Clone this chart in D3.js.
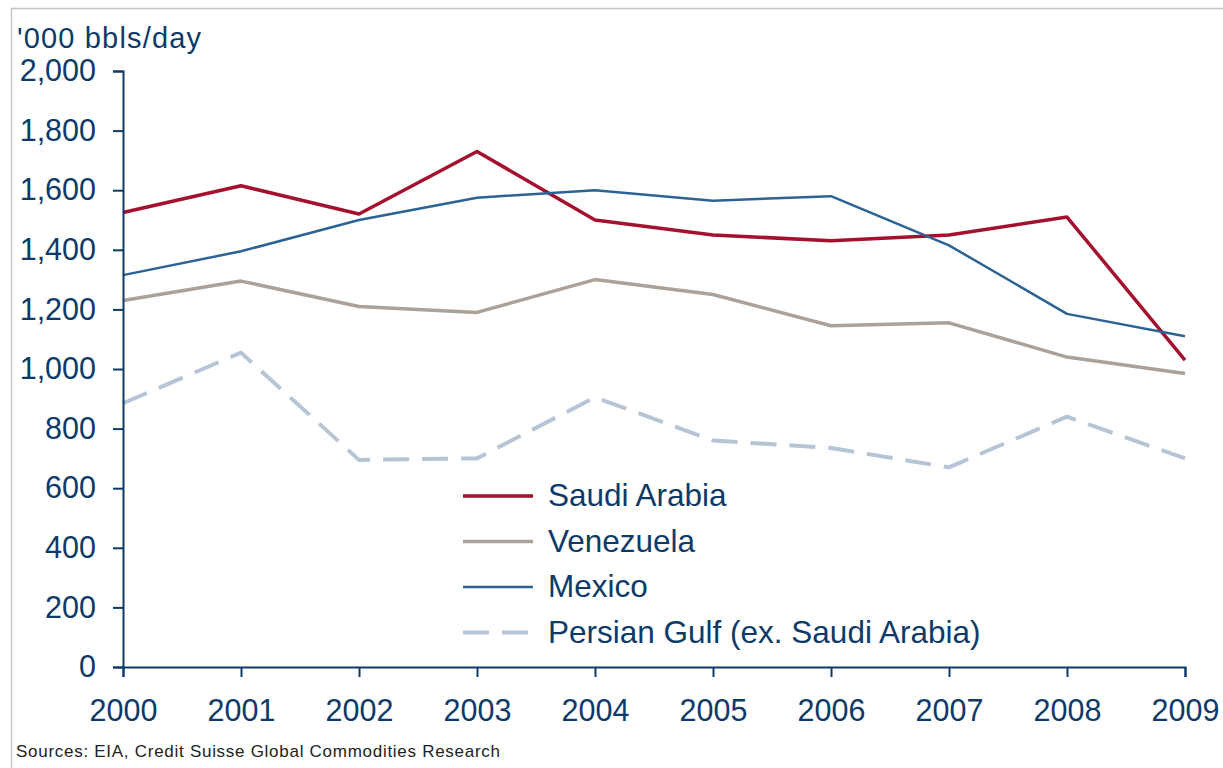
<!DOCTYPE html>
<html>
<head>
<meta charset="utf-8">
<script src="https://cdn.jsdelivr.net/npm/d3@7"></script>
<style>
    body { margin: 0; background: #fff; }
    svg { display: block; font-family: "Liberation Sans", Arial, sans-serif; }
</style>
</head>
<body>
<svg id="chart" width="1223" height="768"></svg>
<script>
// data, '000 bbls/day
const years = [2000, 2001, 2002, 2003, 2004, 2005, 2006, 2007, 2008, 2009];
const saudi_arabia = [1525, 1615, 1520, 1730, 1500, 1450, 1430, 1450, 1510, 1030];
const venezuela = [1230, 1295, 1210, 1190, 1300, 1250, 1145, 1155, 1040, 985];
const mexico = [1315, 1395, 1500, 1575, 1600, 1565, 1580, 1415, 1185, 1110];
const persian_gulf = [885, 1055, 695, 700, 905, 760, 735, 670, 840, 700];
const y_ticks = [0, 200, 400, 600, 800, 1000, 1200, 1400, 1600, 1800, 2000];

const text_colour = "#0d3a68";

const series = [
    {name: "Saudi Arabia", values: saudi_arabia, colour: "#a3112e", width: 3.5, dash: null},
    {name: "Venezuela", values: venezuela, colour: "#aaa199", width: 3.5, dash: null},
    {name: "Mexico", values: mexico, colour: "#2b6395", width: 2.5, dash: null},
    {name: "Persian Gulf (ex. Saudi Arabia)", values: persian_gulf, colour: "#b6c5d5", width: 4, dash: "26,13"},
];

let svg = d3.select("#chart");

// frame lines top and left
svg.append("path")
    .attr("d", "M11.5,768V8.5H1223")
    .attr("fill", "none")
    .attr("stroke", "#c4c4c4")
    .attr("stroke-width", 1.5);

let x = d3.scaleLinear()
    .domain([years[0], years[years.length - 1]])
    .range([123, 1185]);

let y = d3.scaleLinear()
    .domain([0, 2000])
    .range([667, 71]);

// series lines
let line = d3.line()
    .x((_, i) => x(years[i]))
    .y(d => y(d));

svg.append("g")
    .selectAll("path")
    .data(series)
    .join("path")
    .attr("fill", "none")
    .attr("stroke", d => d.colour)
    .attr("stroke-width", d => d.width)
    .attr("stroke-dasharray", d => d.dash)
    .attr("stroke-linejoin", "round")
    .attr("d", d => line(d.values));

// axes
let y_axis = svg.append("g")
    .attr("transform", "translate(123,0)")
    .call(d3.axisLeft(y)
        .tickValues(y_ticks)
        .tickFormat(d3.format(","))
        .tickSize(10)
        .tickPadding(17));

let x_axis = svg.append("g")
    .attr("transform", "translate(0,667)")
    .call(d3.axisBottom(x)
        .tickValues(years)
        .tickFormat(d3.format("d"))
        .tickSize(10)
        .tickPadding(22));

for (let axis of [y_axis, x_axis]) {
    axis.selectAll("path, line")
        .attr("stroke", text_colour)
        .attr("stroke-width", 2);
    axis.selectAll("text")
        .attr("fill", text_colour)
        .attr("font-size", 30.5)
        .attr("font-family", "Liberation Sans, Arial, sans-serif");
}

// unit label
svg.append("text")
    .attr("x", 17)
    .attr("y", 48)
    .attr("fill", text_colour)
    .attr("font-size", 29)
    .attr("textLength", 184)
    .text("'000 bbls/day");

// legend
let legend = svg.append("g")
    .attr("transform", "translate(463,496)");

let rows = legend.selectAll("g")
    .data(series)
    .join("g")
    .attr("transform", (_, i) => `translate(0,${i * 45.5})`);

rows.append("line")
    .attr("x1", 0)
    .attr("x2", 70)
    .attr("stroke", d => d.colour)
    .attr("stroke-width", d => d.width)
    .attr("stroke-dasharray", d => d.dash);

rows.append("text")
    .attr("x", 85)
    .attr("y", 10)
    .attr("fill", text_colour)
    .attr("font-size", 31.5)
    .text(d => d.name);

// source note
svg.append("text")
    .attr("x", 16)
    .attr("y", 757)
    .attr("fill", "#222")
    .attr("font-size", 17)
    .attr("textLength", 484)
    .text("Sources: EIA, Credit Suisse Global Commodities Research");
</script>
</body>
</html>
